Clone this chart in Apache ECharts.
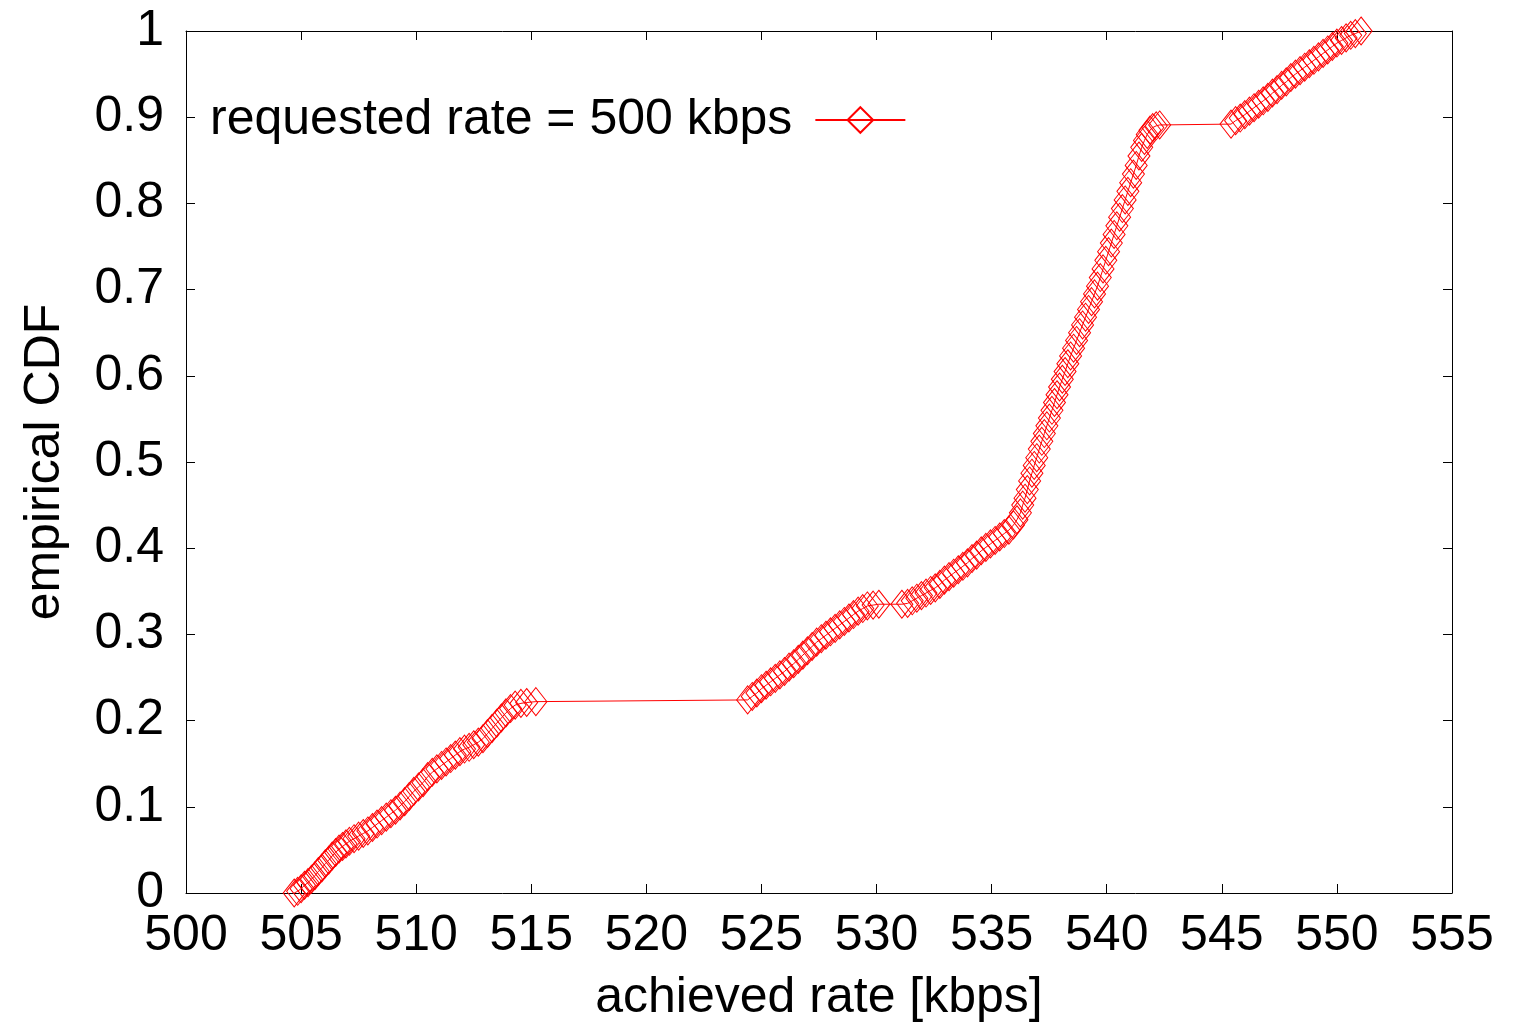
<!DOCTYPE html>
<html>
<head>
<meta charset="utf-8">
<script src="https://cdn.jsdelivr.net/npm/echarts@6/dist/echarts.min.js"></script>
<style>
    html, body { margin: 0; padding: 0; background: #fff; }
    #cdfChart { width: 1513px; height: 1023px; }
</style>
</head>
<body>
<div id="cdfChart"></div>
<script>
// achieved rate samples (kbps)
const rateKbps = [
    504.7, 504.85, 505.0, 505.15, 505.3, 505.45, 505.6, 505.75, 505.9, 506.05,
    506.2, 506.35, 506.5, 506.65, 506.8, 506.95, 507.1, 507.3, 507.5, 507.7,
    507.9, 508.1, 508.3, 508.5, 508.7, 508.9, 509.1, 509.3, 509.5, 509.7,
    509.9, 510.1, 510.3, 510.5, 510.7, 510.9, 511.1, 511.3, 511.5, 511.7,
    511.9, 512.1, 512.3, 512.5, 512.7, 512.9, 513.1, 513.3, 513.5, 513.7,
    513.9, 514.1, 514.3, 514.55, 514.8, 515.2,
    524.4, 524.6, 524.8, 525.0, 525.2, 525.4, 525.6, 525.8, 526.0, 526.2,
    526.4, 526.6, 526.8, 527.0, 527.2, 527.4, 527.6, 527.8, 528.0, 528.2,
    528.4, 528.6, 528.8, 529.0, 529.2, 529.4, 529.6, 529.85, 530.1, 531.1,
    531.35, 531.55, 531.75, 531.95, 532.15, 532.35, 532.55, 532.75, 532.95, 533.15,
    533.35, 533.55, 533.75, 533.95, 534.15, 534.35, 534.55, 534.75, 534.95, 535.15,
    535.35, 535.55, 535.75, 535.95, 536.1, 536.25, 536.35, 536.45, 536.55, 536.65,
    536.75, 536.85, 536.96, 537.07, 537.18, 537.29, 537.4, 537.51, 537.62, 537.73,
    537.84, 537.95, 538.07, 538.19, 538.31, 538.43, 538.56, 538.69, 538.82, 538.95,
    539.08, 539.21, 539.34, 539.47, 539.6, 539.72, 539.84, 539.96, 540.08, 540.2,
    540.32, 540.44, 540.56, 540.68, 540.8, 540.92, 541.04, 541.16, 541.28, 541.4,
    541.52, 541.64, 541.76, 541.88, 542.0, 542.15, 542.3,
    545.4, 545.6, 545.8, 546.0, 546.2, 546.4, 546.6, 546.8, 547.0, 547.2,
    547.4, 547.6, 547.8, 548.0, 548.2, 548.4, 548.6, 548.8, 549.0, 549.2,
    549.4, 549.6, 549.8, 550.0, 550.2, 550.4, 550.6, 550.8, 551.05
];
// empirical CDF value for each sample
const cdfValues = [
    0.000, 0.002, 0.005, 0.009, 0.012, 0.016, 0.020, 0.025, 0.029, 0.034,
    0.038, 0.043, 0.047, 0.051, 0.054, 0.057, 0.060, 0.063, 0.066, 0.069,
    0.072, 0.076, 0.080, 0.084, 0.088, 0.092, 0.096, 0.101, 0.106, 0.112,
    0.118, 0.123, 0.128, 0.135, 0.140, 0.144, 0.148, 0.152, 0.156, 0.160,
    0.164, 0.167, 0.169, 0.172, 0.175, 0.179, 0.185, 0.191, 0.197, 0.203,
    0.209, 0.214, 0.218, 0.220, 0.221, 0.222,
    0.224, 0.228, 0.232, 0.237, 0.241, 0.245, 0.249, 0.253, 0.257, 0.262,
    0.266, 0.271, 0.276, 0.281, 0.286, 0.291, 0.295, 0.299, 0.303, 0.307,
    0.311, 0.315, 0.319, 0.323, 0.327, 0.330, 0.333, 0.334, 0.335, 0.335,
    0.336, 0.339, 0.342, 0.345, 0.348, 0.351, 0.354, 0.358, 0.363, 0.367,
    0.371, 0.375, 0.379, 0.383, 0.388, 0.392, 0.397, 0.401, 0.405, 0.409,
    0.413, 0.417, 0.421, 0.427, 0.433, 0.441, 0.450, 0.458, 0.468, 0.478,
    0.487, 0.496, 0.505, 0.515, 0.524, 0.533, 0.542, 0.551, 0.560, 0.569,
    0.578, 0.587, 0.596, 0.605, 0.614, 0.623, 0.632, 0.641, 0.650, 0.659,
    0.668, 0.677, 0.686, 0.695, 0.704, 0.714, 0.724, 0.734, 0.744, 0.754,
    0.764, 0.774, 0.784, 0.794, 0.804, 0.814, 0.824, 0.834, 0.844, 0.855,
    0.865, 0.873, 0.880, 0.885, 0.888, 0.890, 0.891,
    0.892, 0.896, 0.899, 0.903, 0.907, 0.911, 0.915, 0.919, 0.923, 0.928,
    0.932, 0.937, 0.941, 0.946, 0.950, 0.954, 0.958, 0.962, 0.966, 0.970,
    0.974, 0.978, 0.982, 0.986, 0.989, 0.992, 0.995, 0.997, 1.000
];
const seriesName = 'requested rate = 500 kbps';

function buildPoints(xs, ys) {
    var pts = [];
    for (var i = 0; i < xs.length; i++) {
        pts.push([xs[i], ys[i]]);
    }
    return pts;
}

var fontName = 'Liberation Sans';
var fontSize = 50;
var chart = echarts.init(document.getElementById('cdfChart'));

// 四边都画刻度，和 gnuplot 的边框一样
function makeAxis(pos, showLabel, extra) {
    var ax = {
        type: 'value',
        position: pos,
        axisLine: { show: true, onZero: false, lineStyle: { color: '#000', width: 1 } },
        axisTick: { show: true, inside: true, length: 9, lineStyle: { color: '#000', width: 1 } },
        axisLabel: { show: showLabel, color: '#000', fontSize: fontSize, fontFamily: fontName },
        splitLine: { show: false }
    };
    return Object.assign(ax, extra);
}

var option = {
    animation: false,
    backgroundColor: '#fff',
    grid: { left: 186, right: 61, top: 31, bottom: 130, outerBoundsMode: 'none', containLabel: false },
    legend: {
        data: [seriesName],
        left: 205,
        top: 90,
        align: 'right',
        itemWidth: 90,
        itemHeight: 32,
        textStyle: { color: '#000', fontSize: fontSize, fontFamily: fontName, padding: [0, 18, 0, 0] }
    },
    xAxis: [
        makeAxis('bottom', true, {
            min: 500, max: 555, interval: 5,
            name: 'achieved rate [kbps]',
            nameLocation: 'middle',
            nameGap: 80,
            nameTextStyle: { color: '#000', fontSize: fontSize, fontFamily: fontName },
            axisLabel: { show: true, color: '#000', fontSize: fontSize, fontFamily: fontName, margin: 18 }
        }),
        makeAxis('top', false, { min: 500, max: 555, interval: 5 })
    ],
    yAxis: [
        makeAxis('left', true, {
            min: 0, max: 1, interval: 0.1,
            name: 'empirical CDF',
            nameLocation: 'middle',
            nameGap: 116,
            nameTextStyle: { color: '#000', fontSize: fontSize, fontFamily: fontName },
            axisLabel: { show: true, color: '#000', fontSize: fontSize, fontFamily: fontName, margin: 22 }
        }),
        makeAxis('right', false, { min: 0, max: 1, interval: 0.1 })
    ],
    series: [
        {
            name: seriesName,
            type: 'line',
            data: buildPoints(rateKbps, cdfValues),
            symbol: 'path://M0,-1L1,0L0,1L-1,0Z',
            symbolSize: [22, 28],
            symbolKeepAspect: false,
            showAllSymbol: true,
            itemStyle: { color: 'rgba(255,255,255,0)', borderColor: '#ff0000', borderWidth: 1 },
            lineStyle: { color: '#ff0000', width: 1 },
            emphasis: { disabled: true }
        }
    ]
};

chart.setOption(option);
</script>
</body>
</html>
